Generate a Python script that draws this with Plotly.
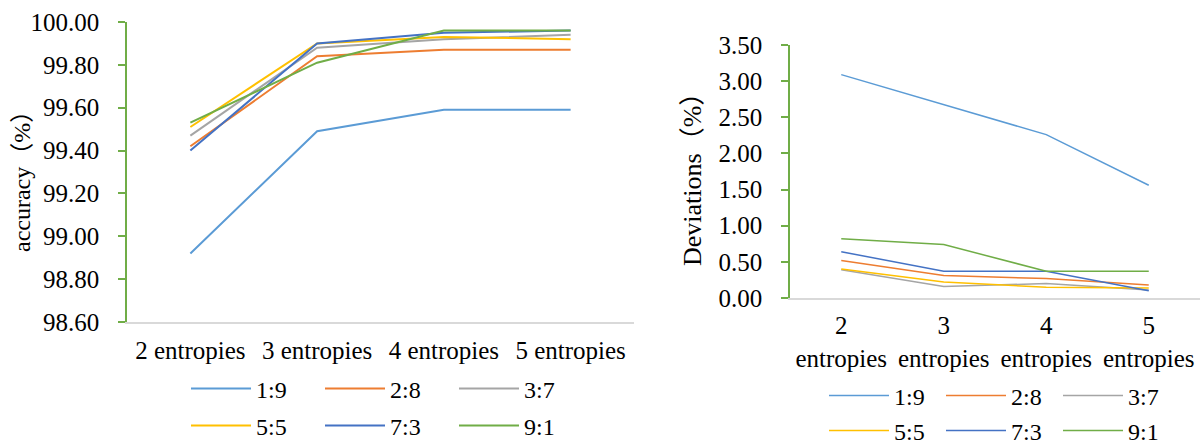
import plotly.graph_objects as go

categories = ["2 entropies", "3 entropies", "4 entropies", "5 entropies"]
right_ticktext = ["2<br>entropies", "3<br>entropies", "4<br>entropies", "5<br>entropies"]
series_names = ["1:9", "2:8", "3:7", "5:5", "7:3", "9:1"]
colors = ["#5B9BD5", "#ED7D31", "#A5A5A5", "#FFC000", "#4472C4", "#70AD47"]

acc_1_9 = [98.92, 99.49, 99.59, 99.59]
acc_2_8 = [99.42, 99.84, 99.87, 99.87]
acc_3_7 = [99.47, 99.88, 99.92, 99.94]
acc_5_5 = [99.51, 99.90, 99.93, 99.92]
acc_7_3 = [99.40, 99.90, 99.95, 99.96]
acc_9_1 = [99.53, 99.81, 99.96, 99.96]

dev_1_9 = [3.09, 2.67, 2.26, 1.56]
dev_2_8 = [0.52, 0.31, 0.27, 0.18]
dev_3_7 = [0.39, 0.16, 0.20, 0.11]
dev_5_5 = [0.40, 0.22, 0.15, 0.14]
dev_7_3 = [0.64, 0.37, 0.37, 0.10]
dev_9_1 = [0.82, 0.74, 0.37, 0.37]

acc = [acc_1_9, acc_2_8, acc_3_7, acc_5_5, acc_7_3, acc_9_1]
dev = [dev_1_9, dev_2_8, dev_3_7, dev_5_5, dev_7_3, dev_9_1]

W, H = 1204, 445
FONT = "Liberation Serif, Times New Roman, Noto Sans CJK SC, serif"
FS = 25
LFS = 24

fig = go.Figure()
for i, name in enumerate(series_names):
    fig.add_trace(go.Scatter(
        x=categories, y=acc[i], mode="lines", name=name,
        line=dict(color=colors[i], width=2),
        xaxis="x", yaxis="y",
        legend="legend" if i < 3 else "legend2",
    ))
for i, name in enumerate(series_names):
    fig.add_trace(go.Scatter(
        x=categories, y=dev[i], mode="lines", name=name,
        line=dict(color=colors[i], width=1.5),
        xaxis="x2", yaxis="y2",
        legend="legend3" if i < 3 else "legend4",
    ))

def px_x(p):
    return p / W

def px_y(p):
    return (H - p) / H

common_y = dict(
    showgrid=False, zeroline=False, showline=True, linecolor="#70AD47", linewidth=1.5,
    ticks="outside", tickcolor="#70AD47", ticklen=7, tickwidth=1.5,
    tickformat=".2f", automargin=False, ticklabelstandoff=14,
    tickfont=dict(family=FONT, size=FS, color="#000000"),
)
common_x = dict(
    type="category", showgrid=False, zeroline=False, showline=True,
    linecolor="#D9D9D9", linewidth=2, ticks="", automargin=False,
    range=[-0.5, 3.5], tickfont=dict(family=FONT, size=FS, color="#000000"),
)

IW = 60

def leg(x, y, ew):
    return dict(
        orientation="h", x=x, y=y, xanchor="left", yanchor="middle",
        entrywidth=ew, entrywidthmode="pixels", itemwidth=IW, bgcolor="rgba(0,0,0,0)",
        font=dict(family=FONT, size=LFS, color="#000000"), tracegroupgap=0,
    )

fig.update_layout(
    width=W, height=H,
    margin=dict(l=0, r=0, t=0, b=0, autoexpand=False),
    paper_bgcolor="white", plot_bgcolor="white",
    font=dict(family=FONT, size=FS, color="#000000"),
    xaxis=dict(domain=[px_x(127), px_x(634)], anchor="y", ticklabelstandoff=5, **common_x),
    yaxis=dict(domain=[px_y(322), px_y(22)], anchor="x", range=[98.6, 100.0], dtick=0.2, **common_y),
    xaxis2=dict(domain=[px_x(790), px_x(1200)], anchor="y2", ticklabelstandoff=4,
                tickvals=categories, ticktext=right_ticktext, **common_x),
    yaxis2=dict(domain=[px_y(298), px_y(45)], anchor="x2", range=[0, 3.5], dtick=0.5, **common_y),
    legend=leg(px_x(186), px_y(389), 134 - IW - 15),
    legend2=leg(px_x(186), px_y(426), 134 - IW - 15),
    legend3=leg(px_x(824), px_y(396), 117 - IW - 15),
    legend4=leg(px_x(824), px_y(431), 117 - IW - 15),
    annotations=[
        dict(text="accuracy（%）", x=px_x(22), y=px_y(176), xref="paper", yref="paper",
             xanchor="center", yanchor="middle",
             textangle=-90, showarrow=False, font=dict(family=FONT, size=24, color="#000000")),
        dict(text="Deviations（%）", x=px_x(692), y=px_y(173), xref="paper", yref="paper",
             xanchor="center", yanchor="middle",
             textangle=-90, showarrow=False, font=dict(family=FONT, size=26, color="#000000")),
    ],
)

fig.write_html("out.html")
